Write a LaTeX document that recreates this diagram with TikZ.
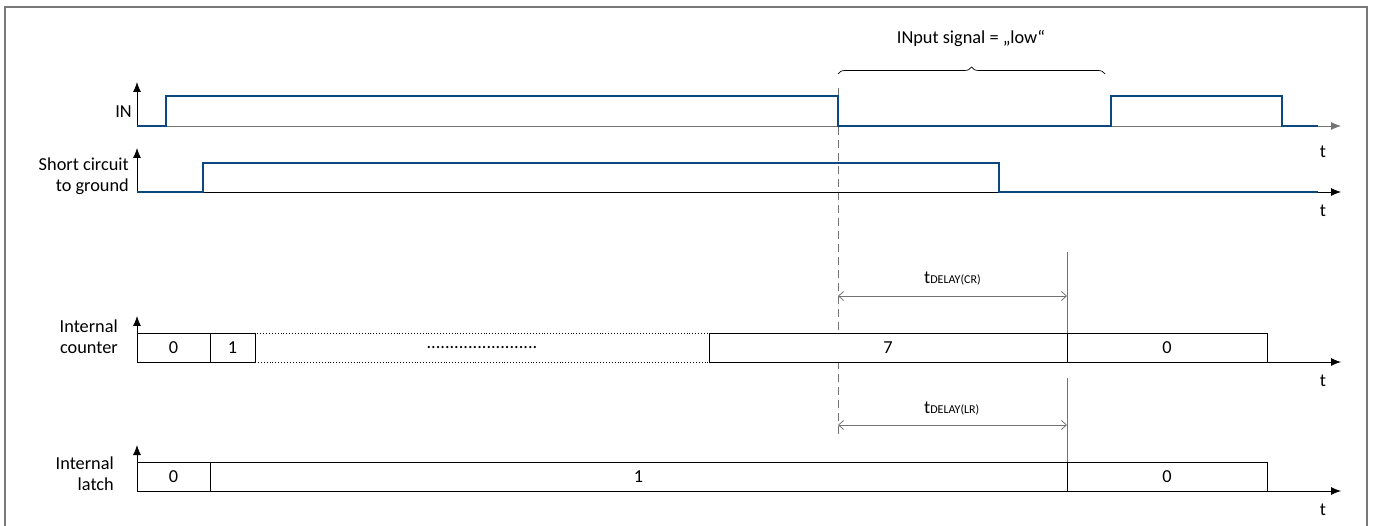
\documentclass[tikz,border=0pt]{standalone}
\usepackage{fontspec}
\setmainfont{Carlito}
\usetikzlibrary{arrows.meta,decorations.pathreplacing}
\definecolor{sigblue}{RGB}{12,72,128}
\definecolor{axgray}{RGB}{115,115,115}
\definecolor{framegray}{RGB}{120,120,120}
\tikzset{
  sig/.style={draw=sigblue, line width=2.6pt, line join=miter},
  axisline/.style={draw=black, line width=0.8pt, -{Latex[length=10pt,width=8pt]}},
  axisgray/.style={draw=axgray, line width=0.8pt, -{Latex[length=10pt,width=8pt]}},
  cell/.style={draw=black, line width=0.9pt, fill=white, minimum height=29pt, inner sep=0pt, outer sep=0pt, anchor=west},
  dotcell/.style={cell, dotted},
  lbl/.style={align=right, anchor=east, inner sep=0pt},
  tlbl/.style={inner sep=0pt},
  delay/.style={draw=axgray, line width=0.8pt, {Straight Barb[length=5pt,width=9pt]}-{Straight Barb[length=5pt,width=9pt]}},
  vmarker/.style={draw=axgray, line width=0.9pt},
  guide/.style={draw=axgray, line width=0.9pt, dash pattern=on 8pt off 5pt},
}
\begin{document}
\begin{tikzpicture}[x=1pt,y=-1pt,font=\fontsize{18.3}{21}\selectfont]
\useasboundingbox (0,0) rectangle (1375,526);
% frame
\draw[framegray, line width=1.6pt] (5,540) -- (5,7) -- (1367,7) -- (1367,540);

% dashed guide
\coordinate (gtop) at (838,88);
\coordinate (gbot) at (838,438);
\draw[guide] (gtop) -- (gbot);

% IN
\coordinate (inO) at (137,126);
\coordinate (inY) at (137,82);
\coordinate (inX) at (1341,126);
\draw[axisgray] (inO) -- (inX);
\draw[axisline] (inO) -- (inY);
\node[lbl] (lin) at (132,112) {IN};
\draw[sig] (137,126) -- (166,126) -- (166,96) -- (838,96) -- (838,126) -- (1111,126) -- (1111,96) -- (1282,96) -- (1282,126) -- (1318,126);
\node[tlbl] (t1) at (1323,152) {t};

% Short circuit
\coordinate (scO) at (137,192);
\coordinate (scY) at (137,148);
\coordinate (scX) at (1341,192);
\draw[axisline] (scO) -- (scX);
\draw[axisline] (scO) -- (scY);
\node[lbl] (lsc) at (129,176) {Short circuit\\to ground};
\draw[sig] (137,192) -- (203,192) -- (203,163) -- (999,163) -- (999,192) -- (1318,192);
\node[tlbl] (t2) at (1323,211) {t};

% brace
\coordinate (bl) at (838,74);
\coordinate (br) at (1105,74);
\draw[line width=0.7pt, decorate, decoration={brace, amplitude=7pt}] (bl) -- (br);
\node[tlbl] (inlow) at (971,38) {INput signal = „low“};

% Internal counter
\coordinate (cO) at (137,362);
\coordinate (cY) at (137,316);
\coordinate (cX) at (1341,362);
\node[dotcell, minimum width=454pt] (cd) at (255,347.5) {........................};
\node[cell, minimum width=73pt] (c0) at (137,347.5) {0};
\node[cell, minimum width=45pt] (c1) at (210,347.5) {1};
\node[cell, minimum width=358pt] (c7) at (709,347.5) {7};
\node[cell, minimum width=200pt] (c0b) at (1067,347.5) {0};
\draw[axisline] (c0b.south east) -- (cX);
\draw[axisline] (cO) -- (cY);
\node[lbl] (lcnt) at (118,337) {Internal\\counter};
\node[tlbl] (t3) at (1323,381) {t};

% delay CR
\coordinate (m1top) at (1067,252);
\draw[vmarker] (m1top) -- (c0b.north west);
\coordinate (d1a) at (838,296);
\coordinate (d1b) at (1067,296);
\draw[delay] (d1a) -- (d1b);
\node[anchor=base west, inner sep=0pt] (dcr) at (924,284) {t{\fontsize{12}{14}\selectfont DELAY(CR)}};

% Internal latch
\coordinate (lO) at (137,491);
\coordinate (lY) at (137,445);
\coordinate (lX) at (1341,491);
\node[cell, minimum width=73pt] (l0) at (137,476.5) {0};
\node[cell, minimum width=857pt] (l1) at (210,476.5) {1};
\node[cell, minimum width=200pt] (l0b) at (1067,476.5) {0};
\draw[axisline] (l0b.south east) -- (lX);
\draw[axisline] (lO) -- (lY);
\node[lbl] (llat) at (114,474) {Internal\\latch};
\node[tlbl] (t4) at (1323,510) {t};

% delay LR
\coordinate (m2top) at (1067,378);
\draw[vmarker] (m2top) -- (l0b.north west);
\coordinate (d2a) at (838,425);
\coordinate (d2b) at (1067,425);
\draw[delay] (d2a) -- (d2b);
\node[anchor=base west, inner sep=0pt] (dlr) at (924,413) {t{\fontsize{12}{14}\selectfont DELAY(LR)}};
\end{tikzpicture}
\end{document}
